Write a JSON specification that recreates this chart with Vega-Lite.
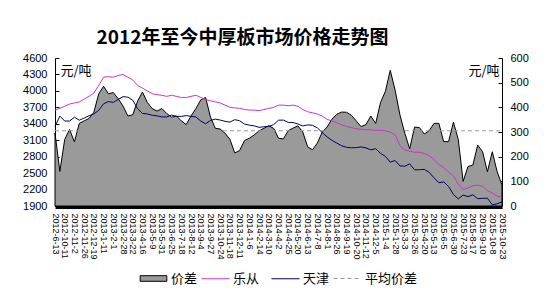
{
  "$schema": "https://vega.github.io/schema/vega-lite/v6.json",
  "width": 447,
  "height": 148,
  "autosize": {"type": "none"},
  "padding": {"left": 55, "top": 58, "right": 46, "bottom": 94},
  "background": "white",
  "config": {"view": {"stroke": null}, "font": "Liberation Sans",
    "legend": {"orient": "none", "direction": "horizontal", "title": null, "labelFont": "Noto Sans CJK SC", "labelFontSize": 13, "labelColor": "black", "symbolSize": 784, "symbolStrokeWidth": 1, "columnPadding": 9, "labelOffset": 3, "padding": 0}},
  "title": {"text": "2012年至今中厚板市场价格走势图", "font": "Noto Sans CJK SC", "fontSize": 19, "fontWeight": "bold", "anchor": "middle", "dx": -36, "offset": 4, "color": "black"},
  "data": {"values": [
    {"date": "2012-6-13", "diff": 296, "lecong": 3650, "tianjin": 3354, "avg": 305},
    {"date": "2012-8-10", "diff": 140, "lecong": 3680, "tianjin": 3540, "avg": 305},
    {"date": "2012-10-11", "diff": 270, "lecong": 3720, "tianjin": 3450, "avg": 305},
    {"date": "2012-10-22", "diff": 310, "lecong": 3760, "tianjin": 3450, "avg": 305},
    {"date": "2012-11-2", "diff": 260, "lecong": 3780, "tianjin": 3520, "avg": 305},
    {"date": "2012-11-14", "diff": 335, "lecong": 3800, "tianjin": 3465, "avg": 305},
    {"date": "2012-11-26", "diff": 345, "lecong": 3850, "tianjin": 3505, "avg": 305},
    {"date": "2012-12-7", "diff": 355, "lecong": 3900, "tianjin": 3545, "avg": 305},
    {"date": "2012-12-19", "diff": 380, "lecong": 3960, "tianjin": 3580, "avg": 305},
    {"date": "2012-12-31", "diff": 455, "lecong": 4100, "tianjin": 3645, "avg": 305},
    {"date": "2013-1-11", "diff": 485, "lecong": 4250, "tianjin": 3765, "avg": 305},
    {"date": "2013-1-22", "diff": 455, "lecong": 4260, "tianjin": 3805, "avg": 305},
    {"date": "2013-2-1", "diff": 460, "lecong": 4250, "tianjin": 3790, "avg": 305},
    {"date": "2013-2-18", "diff": 435, "lecong": 4280, "tianjin": 3845, "avg": 305},
    {"date": "2013-2-28", "diff": 405, "lecong": 4300, "tianjin": 3895, "avg": 305},
    {"date": "2013-3-12", "diff": 365, "lecong": 4250, "tianjin": 3885, "avg": 305},
    {"date": "2013-3-22", "diff": 370, "lecong": 4200, "tianjin": 3830, "avg": 305},
    {"date": "2013-4-3", "diff": 425, "lecong": 4100, "tianjin": 3675, "avg": 305},
    {"date": "2013-4-16", "diff": 462, "lecong": 4050, "tianjin": 3588, "avg": 305},
    {"date": "2013-4-26", "diff": 420, "lecong": 4000, "tianjin": 3580, "avg": 305},
    {"date": "2013-5-9", "diff": 395, "lecong": 3950, "tianjin": 3555, "avg": 305},
    {"date": "2013-5-20", "diff": 385, "lecong": 3930, "tianjin": 3545, "avg": 305},
    {"date": "2013-5-31", "diff": 395, "lecong": 3920, "tianjin": 3525, "avg": 305},
    {"date": "2013-6-13", "diff": 375, "lecong": 3900, "tianjin": 3525, "avg": 305},
    {"date": "2013-6-25", "diff": 360, "lecong": 3920, "tianjin": 3560, "avg": 305},
    {"date": "2013-7-5", "diff": 365, "lecong": 3900, "tianjin": 3535, "avg": 305},
    {"date": "2013-7-18", "diff": 345, "lecong": 3880, "tianjin": 3535, "avg": 305},
    {"date": "2013-7-31", "diff": 330, "lecong": 3880, "tianjin": 3550, "avg": 305},
    {"date": "2013-8-12", "diff": 365, "lecong": 3900, "tianjin": 3535, "avg": 305},
    {"date": "2013-8-23", "diff": 395, "lecong": 3920, "tianjin": 3525, "avg": 305},
    {"date": "2013-9-4", "diff": 430, "lecong": 3880, "tianjin": 3450, "avg": 305},
    {"date": "2013-9-16", "diff": 440, "lecong": 3840, "tianjin": 3400, "avg": 305},
    {"date": "2013-9-27", "diff": 360, "lecong": 3820, "tianjin": 3460, "avg": 305},
    {"date": "2013-10-12", "diff": 315, "lecong": 3800, "tianjin": 3485, "avg": 305},
    {"date": "2013-10-24", "diff": 312, "lecong": 3780, "tianjin": 3468, "avg": 305},
    {"date": "2013-11-5", "diff": 295, "lecong": 3740, "tianjin": 3445, "avg": 305},
    {"date": "2013-11-18", "diff": 270, "lecong": 3700, "tianjin": 3430, "avg": 305},
    {"date": "2013-11-29", "diff": 215, "lecong": 3690, "tianjin": 3475, "avg": 305},
    {"date": "2013-12-11", "diff": 225, "lecong": 3680, "tianjin": 3455, "avg": 305},
    {"date": "2013-12-24", "diff": 265, "lecong": 3660, "tianjin": 3395, "avg": 305},
    {"date": "2014-1-6", "diff": 275, "lecong": 3650, "tianjin": 3375, "avg": 305},
    {"date": "2014-1-22", "diff": 288, "lecong": 3650, "tianjin": 3362, "avg": 305},
    {"date": "2014-2-14", "diff": 305, "lecong": 3640, "tianjin": 3335, "avg": 305},
    {"date": "2014-2-26", "diff": 315, "lecong": 3660, "tianjin": 3345, "avg": 305},
    {"date": "2014-3-10", "diff": 325, "lecong": 3680, "tianjin": 3355, "avg": 305},
    {"date": "2014-3-21", "diff": 315, "lecong": 3700, "tianjin": 3385, "avg": 305},
    {"date": "2014-4-2", "diff": 275, "lecong": 3740, "tianjin": 3465, "avg": 305},
    {"date": "2014-4-14", "diff": 272, "lecong": 3740, "tianjin": 3468, "avg": 305},
    {"date": "2014-4-25", "diff": 305, "lecong": 3730, "tianjin": 3425, "avg": 305},
    {"date": "2014-5-8", "diff": 316, "lecong": 3740, "tianjin": 3424, "avg": 305},
    {"date": "2014-5-20", "diff": 325, "lecong": 3720, "tianjin": 3395, "avg": 305},
    {"date": "2014-6-3", "diff": 300, "lecong": 3660, "tianjin": 3360, "avg": 305},
    {"date": "2014-6-13", "diff": 240, "lecong": 3620, "tianjin": 3380, "avg": 305},
    {"date": "2014-6-25", "diff": 228, "lecong": 3600, "tianjin": 3372, "avg": 305},
    {"date": "2014-7-8", "diff": 255, "lecong": 3580, "tianjin": 3325, "avg": 305},
    {"date": "2014-7-21", "diff": 300, "lecong": 3540, "tianjin": 3240, "avg": 305},
    {"date": "2014-8-1", "diff": 320, "lecong": 3480, "tianjin": 3160, "avg": 305},
    {"date": "2014-8-13", "diff": 352, "lecong": 3450, "tianjin": 3098, "avg": 305},
    {"date": "2014-8-26", "diff": 372, "lecong": 3420, "tianjin": 3048, "avg": 305},
    {"date": "2014-9-5", "diff": 381, "lecong": 3380, "tianjin": 2999, "avg": 305},
    {"date": "2014-9-19", "diff": 380, "lecong": 3350, "tianjin": 2970, "avg": 305},
    {"date": "2014-10-8", "diff": 368, "lecong": 3330, "tianjin": 2962, "avg": 305},
    {"date": "2014-10-20", "diff": 345, "lecong": 3310, "tianjin": 2965, "avg": 305},
    {"date": "2014-10-31", "diff": 322, "lecong": 3300, "tianjin": 2978, "avg": 305},
    {"date": "2014-11-12", "diff": 330, "lecong": 3290, "tianjin": 2960, "avg": 305},
    {"date": "2014-11-24", "diff": 365, "lecong": 3290, "tianjin": 2925, "avg": 305},
    {"date": "2014-12-5", "diff": 335, "lecong": 3280, "tianjin": 2945, "avg": 305},
    {"date": "2014-12-18", "diff": 420, "lecong": 3280, "tianjin": 2860, "avg": 305},
    {"date": "2015-1-4", "diff": 465, "lecong": 3270, "tianjin": 2805, "avg": 305},
    {"date": "2015-1-16", "diff": 550, "lecong": 3250, "tianjin": 2700, "avg": 305},
    {"date": "2015-1-28", "diff": 470, "lecong": 3200, "tianjin": 2730, "avg": 305},
    {"date": "2015-2-12", "diff": 369, "lecong": 3000, "tianjin": 2631, "avg": 305},
    {"date": "2015-3-3", "diff": 295, "lecong": 2920, "tianjin": 2625, "avg": 305},
    {"date": "2015-3-16", "diff": 232, "lecong": 2900, "tianjin": 2668, "avg": 305},
    {"date": "2015-3-26", "diff": 320, "lecong": 2880, "tianjin": 2560, "avg": 305},
    {"date": "2015-4-8", "diff": 318, "lecong": 2880, "tianjin": 2562, "avg": 305},
    {"date": "2015-4-20", "diff": 292, "lecong": 2860, "tianjin": 2568, "avg": 305},
    {"date": "2015-5-4", "diff": 305, "lecong": 2820, "tianjin": 2515, "avg": 305},
    {"date": "2015-5-13", "diff": 335, "lecong": 2750, "tianjin": 2415, "avg": 305},
    {"date": "2015-5-26", "diff": 335, "lecong": 2660, "tianjin": 2325, "avg": 305},
    {"date": "2015-6-5", "diff": 261, "lecong": 2600, "tianjin": 2339, "avg": 305},
    {"date": "2015-6-17", "diff": 261, "lecong": 2520, "tianjin": 2259, "avg": 305},
    {"date": "2015-6-30", "diff": 340, "lecong": 2450, "tianjin": 2110, "avg": 305},
    {"date": "2015-7-13", "diff": 270, "lecong": 2300, "tianjin": 2030, "avg": 305},
    {"date": "2015-7-23", "diff": 100, "lecong": 2200, "tianjin": 2100, "avg": 305},
    {"date": "2015-8-5", "diff": 160, "lecong": 2230, "tianjin": 2070, "avg": 305},
    {"date": "2015-8-17", "diff": 166, "lecong": 2270, "tianjin": 2104, "avg": 305},
    {"date": "2015-8-28", "diff": 247, "lecong": 2280, "tianjin": 2033, "avg": 305},
    {"date": "2015-9-10", "diff": 220, "lecong": 2260, "tianjin": 2040, "avg": 305},
    {"date": "2015-9-24", "diff": 139, "lecong": 2180, "tianjin": 2041, "avg": 305},
    {"date": "2015-10-8", "diff": 220, "lecong": 2140, "tianjin": 1920, "avg": 305},
    {"date": "2015-10-15", "diff": 139, "lecong": 2080, "tianjin": 1941, "avg": 305},
    {"date": "2015-10-23", "diff": 85, "lecong": 2060, "tianjin": 1975, "avg": 305}
  ]},
  "encoding": {
    "x": {
      "field": "date", "type": "ordinal", "sort": null,
      "scale": {"type": "point", "padding": 0},
      "axis": {
        "title": null,
        "values": ["2012-6-13","2012-10-11","2012-11-2","2012-11-26","2012-12-19","2013-1-11","2013-2-1","2013-2-28","2013-3-22","2013-4-16","2013-5-9","2013-5-31","2013-6-25","2013-7-18","2013-8-12","2013-9-4","2013-9-27","2013-10-24","2013-11-18","2013-12-11","2014-1-6","2014-2-14","2014-3-10","2014-4-2","2014-4-25","2014-5-20","2014-6-13","2014-7-8","2014-8-1","2014-8-26","2014-9-19","2014-10-20","2014-11-12","2014-12-5","2015-1-4","2015-1-28","2015-3-3","2015-3-26","2015-4-20","2015-5-13","2015-6-5","2015-6-30","2015-7-23","2015-8-17","2015-9-10","2015-10-8","2015-10-23"],
        "labelAngle": 90, "labelFontSize": 9, "labelColor": "black", "labelPadding": 7,
        "ticks": false, "domainWidth": 5, "domainColor": "black", "labelOverlap": false
      }
    }
  },
  "layer": [
    {
      "layer": [
        {
          "mark": {"type": "area", "stroke": "black", "strokeWidth": 1, "opacity": 1},
          "encoding": {
            "y": {"field": "diff", "type": "quantitative", "scale": {"domain": [0, 600], "nice": false},
              "axis": {"orient": "right", "values": [0,100,200,300,400,500,600], "format": "d", "labelOverlap": false, "grid": false, "tickSize": -4, "labelPadding": 12, "labelFontSize": 11, "labelColor": "black", "domainColor": "black", "tickColor": "black",
                "title": "元/吨", "titleAngle": 0, "titleX": -34, "titleY": 16, "titleAlign": "left", "titleBaseline": "alphabetic", "titleFont": "Noto Sans CJK SC", "titleFontSize": 13, "titleFontWeight": "normal", "titleColor": "black"}},
            "fill": {"datum": "价差", "type": "nominal",
              "scale": {"domain": ["价差"], "range": ["#9a9a9a"]},
              "legend": {"legendX": 84, "legendY": 206, "symbolType": "M-0.95,-0.2H0.95V0.2H-0.95Z", "symbolStrokeColor": "black", "symbolStrokeWidth": 1}}
          }
        },
        {
          "mark": {"type": "line", "stroke": "#999999", "strokeWidth": 1},
          "encoding": {
            "y": {"field": "avg", "type": "quantitative",
              "axis": {"orient": "right", "values": [0,100,200,300,400,500,600], "format": "d", "labelOverlap": false, "grid": false, "tickSize": -4, "labelPadding": 12, "labelFontSize": 11, "labelColor": "black", "domainColor": "black", "tickColor": "black",
                "title": "元/吨", "titleAngle": 0, "titleX": -34, "titleY": 16, "titleAlign": "left", "titleBaseline": "alphabetic", "titleFont": "Noto Sans CJK SC", "titleFontSize": 13, "titleFontWeight": "normal", "titleColor": "black"}},
            "strokeDash": {"datum": "平均价差", "type": "nominal",
              "scale": {"domain": ["平均价差"], "range": [[4, 3]]},
              "legend": {"legendX": 278, "legendY": 206, "symbolType": "stroke", "symbolStrokeColor": "#999999"}}
          }
        }
      ]
    },
    {
      "layer": [
        {
          "mark": {"type": "line", "strokeWidth": 1},
          "encoding": {
            "y": {"field": "lecong", "type": "quantitative", "scale": {"domain": [1900, 4600], "nice": false},
              "axis": {"orient": "left", "values": [1900,2200,2500,2800,3100,3400,3700,4000,4300,4600], "format": "d", "labelOverlap": false, "grid": false, "tickSize": -4, "labelPadding": 12, "labelFontSize": 11, "labelColor": "black", "domainColor": "black", "tickColor": "black",
                "title": "元/吨", "titleAngle": 0, "titleX": 5, "titleY": 16, "titleAlign": "left", "titleBaseline": "alphabetic", "titleFont": "Noto Sans CJK SC", "titleFontSize": 13, "titleFontWeight": "normal", "titleColor": "black"}},
            "stroke": {"datum": "乐从", "type": "nominal",
              "scale": {"domain": ["乐从", "天津"], "range": ["#cc33cc", "#000066"]},
              "legend": {"legendX": 146, "legendY": 206, "symbolType": "stroke"}}
          }
        },
        {
          "mark": {"type": "line", "strokeWidth": 1},
          "encoding": {
            "y": {"field": "tianjin", "type": "quantitative",
              "axis": {"orient": "left", "values": [1900,2200,2500,2800,3100,3400,3700,4000,4300,4600], "format": "d", "labelOverlap": false, "grid": false, "tickSize": -4, "labelPadding": 12, "labelFontSize": 11, "labelColor": "black", "domainColor": "black", "tickColor": "black",
                "title": "元/吨", "titleAngle": 0, "titleX": 5, "titleY": 16, "titleAlign": "left", "titleBaseline": "alphabetic", "titleFont": "Noto Sans CJK SC", "titleFontSize": 13, "titleFontWeight": "normal", "titleColor": "black"}},
            "stroke": {"datum": "天津", "type": "nominal"}
          }
        }
      ]
    }
  ],
  "resolve": {"scale": {"y": "independent"}}
}
